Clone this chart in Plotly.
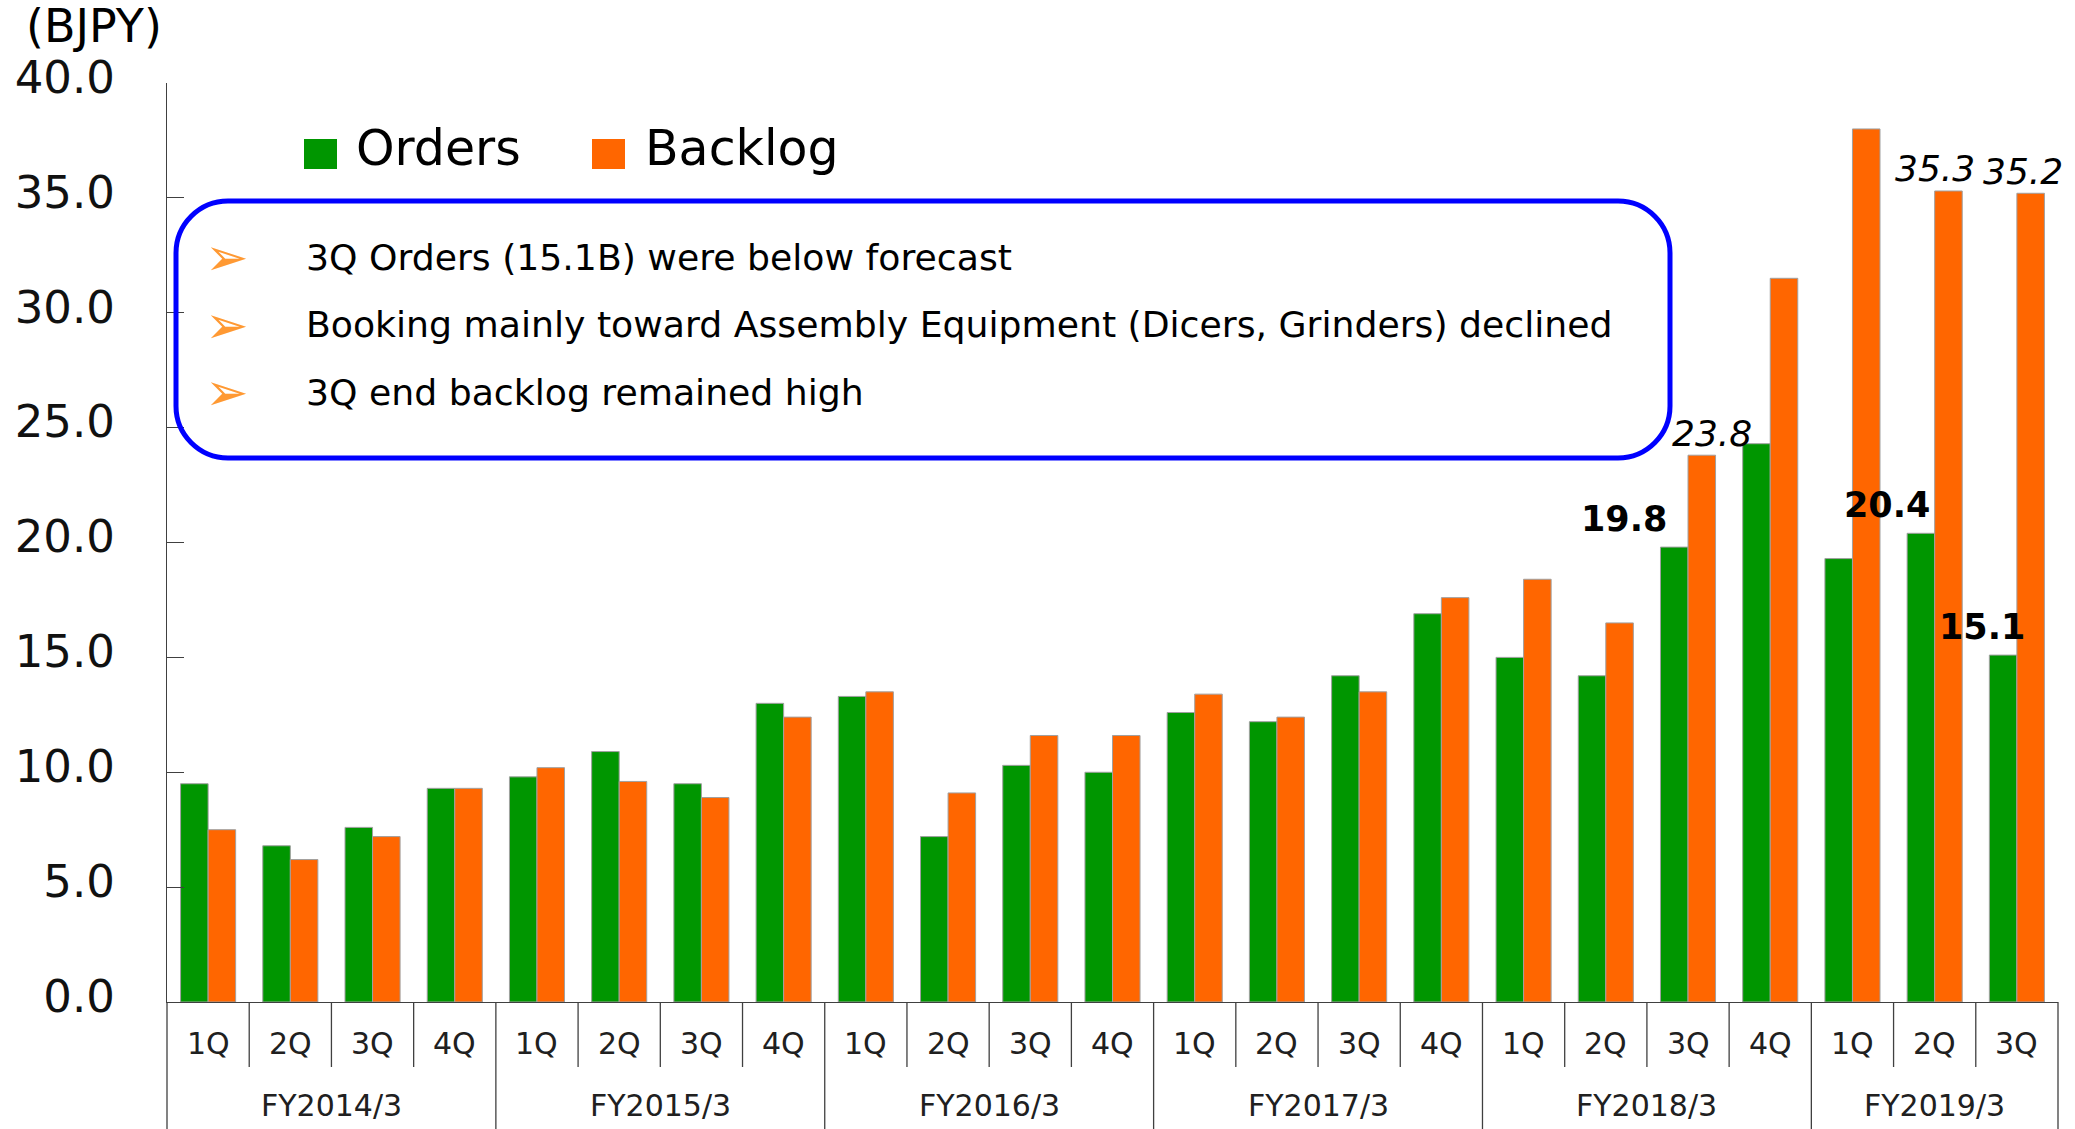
import plotly.graph_objects as go

# ---------------- data ----------------
fiscal_years = ["FY2014/3", "FY2015/3", "FY2016/3", "FY2017/3", "FY2018/3", "FY2019/3"]
quarters_per_year = [4, 4, 4, 4, 4, 3]
quarter_names = ["1Q", "2Q", "3Q", "4Q"]

orders = [9.5, 6.8, 7.6, 9.3,
          9.8, 10.9, 9.5, 13.0,
          13.3, 7.2, 10.3, 10.0,
          12.6, 12.2, 14.2, 16.9,
          15.0, 14.2, 19.8, 24.3,
          19.3, 20.4, 15.1]
backlog = [7.5, 6.2, 7.2, 9.3,
           10.2, 9.6, 8.9, 12.4,
           13.5, 9.1, 11.6, 11.6,
           13.4, 12.4, 13.5, 17.6,
           18.4, 16.5, 23.8, 31.5,
           38.0, 35.3, 35.2]

orders_labeled = [18, 21, 22]    # bold value labels
backlog_labeled = [18, 21, 22]   # italic value labels

bullets = [
    "3Q Orders (15.1B) were below forecast",
    "Booking mainly toward Assembly Equipment (Dicers, Grinders) declined",
    "3Q end backlog remained high",
]

y_ticks = [0, 5, 10, 15, 20, 25, 30, 35, 40]

GREEN = "#009600"
ORANGE = "#FF6600"

# ---------------- geometry helpers ----------------
W, H = 2075, 1129
L, R, T, B = 167, 17, 83, 127
PW, PH = W - L - R, H - T - B
n = len(orders)
xs = list(range(n))
quarter_labels = []
year_ranges = []
k = 0
for fy, q in zip(fiscal_years, quarters_per_year):
    quarter_labels += quarter_names[:q]
    year_ranges.append((k, k + q - 1))
    k += q


def px2x(X):
    return (X - L) / PW


def px2y(Y):
    return (H - B - Y) / PH


def idx2paper(v):
    return (v + 0.5) / n


fig = go.Figure()
fig.add_trace(go.Bar(x=xs, y=orders, name="Orders", marker=dict(color=GREEN, line=dict(color="#A0A0A0", width=1))))
fig.add_trace(go.Bar(x=xs, y=backlog, name="Backlog", marker=dict(color=ORANGE, line=dict(color="#A0A0A0", width=1))))

shapes = []
annotations = []

# category separators
for i in range(n + 1):
    is_year = (i == 0) or (i == n) or any(i == a for a, b in year_ranges)
    shapes.append(dict(type="line", xref="paper", yref="paper",
                       x0=idx2paper(i - 0.5), x1=idx2paper(i - 0.5),
                       y0=0, y1=px2y(1129 if is_year else 1067),
                       line=dict(color="#404040", width=1.3)))

for i, ql in enumerate(quarter_labels):
    annotations.append(dict(x=i, y=px2y(1043), xref="x", yref="paper", text=ql, showarrow=False,
                            font=dict(size=30, color="#202020"), xanchor="center", yanchor="middle"))
for fy, (a, b) in zip(fiscal_years, year_ranges):
    annotations.append(dict(x=(a + b) / 2, y=px2y(1105), xref="x", yref="paper", text=fy, showarrow=False,
                            font=dict(size=30, color="#202020"), xanchor="center", yanchor="middle"))

# value labels
off = 0.168
bold_shift = {18: -50, 21: -34, 22: -21}
for i in orders_labeled:
    annotations.append(dict(x=i - off, y=orders[i], xref="x", yref="y", text=f"<b>{orders[i]:.1f}</b>",
                            showarrow=False, xshift=bold_shift.get(i, 0), yshift=28,
                            font=dict(size=35, color="black"), xanchor="center", yanchor="middle"))
ital_shift = {18: 10, 21: -13, 22: -8}
for i in backlog_labeled:
    annotations.append(dict(x=i + off, y=backlog[i], xref="x", yref="y", text=f"<i>{backlog[i]:.1f}</i>",
                            showarrow=False, xshift=ital_shift.get(i, 0), yshift=22,
                            font=dict(size=36, color="black"), xanchor="center", yanchor="middle"))

# unit label
annotations.append(dict(x=px2x(24), y=px2y(26), xref="paper", yref="paper", text="(BJPY)", showarrow=False,
                        font=dict(size=46, color="black"), xanchor="left", yanchor="middle"))

# legend (custom)
for name, col, sx, tx in [("Orders", GREEN, 304, 354), ("Backlog", ORANGE, 592, 643)]:
    shapes.append(dict(type="rect", xref="paper", yref="paper", x0=px2x(sx), x1=px2x(sx + 33),
                       y0=px2y(169), y1=px2y(139), fillcolor=col, line=dict(width=0)))
    annotations.append(dict(x=px2x(tx), y=px2y(148), xref="paper", yref="paper", text=name, showarrow=False,
                            font=dict(size=49, color="black"), xanchor="left", yanchor="middle"))

# rounded box
x0, x1 = px2x(176), px2x(1670)
y0, y1 = px2y(458), px2y(201)
r = 52
rx, ry = r / PW, r / PH
kc = 0.5523
path = (f"M {x0+rx},{y1} L {x1-rx},{y1} "
        f"C {x1-rx+kc*rx},{y1} {x1},{y1-ry+kc*ry} {x1},{y1-ry} "
        f"L {x1},{y0+ry} "
        f"C {x1},{y0+ry-kc*ry} {x1-rx+kc*rx},{y0} {x1-rx},{y0} "
        f"L {x0+rx},{y0} "
        f"C {x0+rx-kc*rx},{y0} {x0},{y0+ry-kc*ry} {x0},{y0+ry} "
        f"L {x0},{y1-ry} "
        f"C {x0},{y1-ry+kc*ry} {x0+rx-kc*rx},{y1} {x0+rx},{y1} Z")
shapes.append(dict(type="path", xref="paper", yref="paper", path=path,
                   line=dict(color="#0000FF", width=5), fillcolor="rgba(255,255,255,0)"))

for j, txt in enumerate(bullets):
    yy = px2y(257 + j * 67.5)
    annotations.append(dict(x=px2x(203), y=yy, xref="paper", yref="paper", text="➢", showarrow=False,
                            font=dict(size=52, color="#FF9933"), xanchor="left", yanchor="middle"))
    annotations.append(dict(x=px2x(304), y=yy, xref="paper", yref="paper", text=txt, showarrow=False,
                            font=dict(size=36.2, color="black", family="DejaVu Sans"),
                            xanchor="left", yanchor="middle"))

fig.update_layout(
    width=W, height=H, autosize=False,
    margin=dict(l=L, r=R, t=T, b=B, pad=0),
    paper_bgcolor="white", plot_bgcolor="white",
    font=dict(family="DejaVu Sans", color="black"),
    barmode="group", bargap=0.33, bargroupgap=0,
    showlegend=False,
    shapes=shapes, annotations=annotations,
    xaxis=dict(range=[-0.5, n - 0.5], showticklabels=False, ticks="", showgrid=False, zeroline=False,
               showline=True, linecolor="#404040", linewidth=1.3, fixedrange=True),
    yaxis=dict(range=[0, 40], tickvals=y_ticks, tickformat=".1f", ticks="inside", ticklen=17,
               tickcolor="#404040", tickwidth=1.3, showgrid=False, zeroline=False,
               showline=True, linecolor="#404040", linewidth=1.3,
               tickfont=dict(size=45, color="#111111"), ticklabelstandoff=42, ticklabelshift=-6,
               fixedrange=True),
)

fig.write_html("out.html", config={"displayModeBar": False},
               post_script="document.body.style.margin='0';")
